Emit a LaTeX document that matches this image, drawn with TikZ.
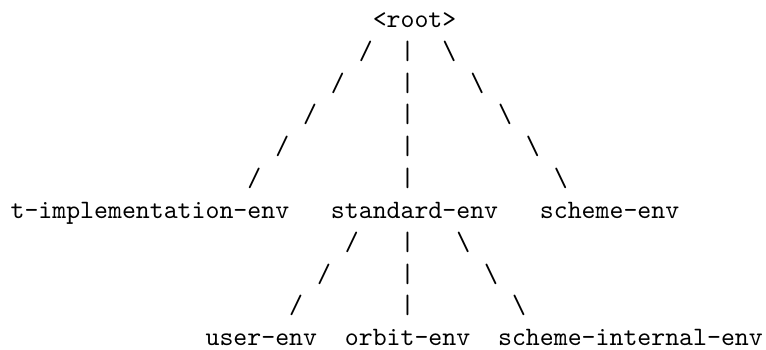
\documentclass[tikz,border=0pt]{standalone}
\usepackage{fontspec}
\usepackage{tikz}
\tikzstyle{env}=[anchor=base west,inner sep=0pt,outer sep=0pt,font=\ttfamily]

\begin{document}
\begin{tikzpicture}[x=5.25pt,y=12pt]
  \useasboundingbox (-0.76,0.86) rectangle (54.23,-10.11);

  \node [env] at (26, 0) (root) {<root>};
  \node [env] at (0, -6) (timpl) {t-implementation-env};
  \node [env] at (23, -6) (std) {standard-env};
  \node [env] at (38, -6) (scheme) {scheme-env};
  \node [env] at (14, -10) (user) {user-env};
  \node [env] at (24, -10) (orbit) {orbit-env};
  \node [env] at (35, -10) (internal) {scheme-internal-env};

  % branches under <root>
  \foreach \r in {1,...,5} {
    \node [env] at (27-2*\r, -\r) (rl\r) {/};
    \node [env] at (28, -\r) (rm\r) {|};
    \node [env] at (29+2*\r, -\r) (rr\r) {\textbackslash};
  }
  % branches under standard-env
  \foreach \r in {1,2,3} {
    \node [env] at (26-2*\r, -6-\r) (sl\r) {/};
    \node [env] at (28, -6-\r) (sm\r) {|};
    \node [env] at (30+2*\r, -6-\r) (sr\r) {\textbackslash};
  }
\end{tikzpicture}
\end{document}
